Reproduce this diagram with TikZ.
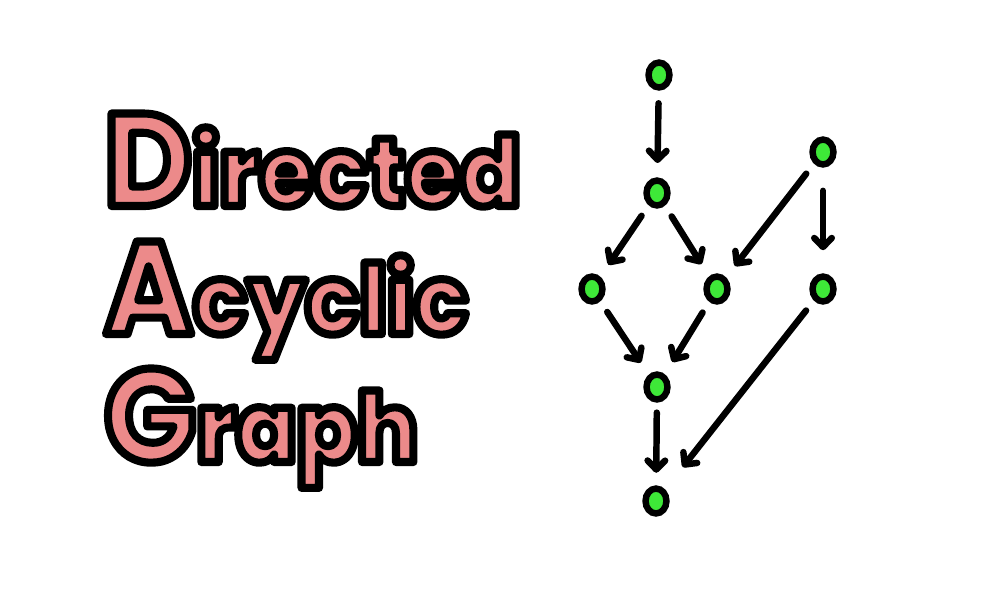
\documentclass[tikz,border=0pt]{standalone}
\usepackage{fontspec}
\usetikzlibrary{arrows.meta,shapes.geometric}
\IfFontExistsTF{Poppins ExtraBold}{%
  \newfontfamily\titlefont{Poppins ExtraBold}[FakeStretch=0.92]}{%
  \newfontfamily\titlefont{Poppins}[FakeStretch=0.92,UprightFont=*Bold]}
\IfFontExistsTF{Poppins Bold}{%
  \newfontfamily\capfont{Poppins Bold}[FakeStretch=0.92]}{%
  \newfontfamily\capfont{Poppins}[FakeStretch=0.92,UprightFont=*Bold]}
\definecolor{dagpink}{RGB}{236,138,138}
\definecolor{daggreen}{RGB}{62,232,56}
\def\px{0.5669pt}
\newcommand\capsz{\capfont\fontsize{75}{75}\selectfont}
\newcommand\lowsz{\titlefont\fontsize{55}{55}\selectfont}
\newcommand\olon{\special{pdf:literal direct 2 Tr 4.6 w 1 j 1 J 0 0 0 RG}}
\newcommand\oloff{\special{pdf:literal direct 0 Tr}}
\tikzset{
  word/.style={anchor=base west, inner sep=0pt, outer sep=0pt, text=dagpink},
  vert/.style={ellipse, draw=black, fill=daggreen, line width=6.5*\px,
    minimum width=21*\px, minimum height=25*\px, inner sep=0pt, outer sep=0pt},
  arr/.style={line width=6.5*\px, line cap=round,
    -{Straight Barb[length=5.1pt, width=10pt, round]},
    shorten <=9pt, shorten >=10pt},
}
\begin{document}
\begin{tikzpicture}[x=0.02cm, y=-0.02cm]
\useasboundingbox (0,0) rectangle (1000,600);
% title
\node[word] (w1) at (104,206) {\olon\capsz D\lowsz irected\oloff};
\node[word] (w2) at (104,334) {\olon\capsz A\lowsz cyclic\oloff};
\node[word] (w3) at (104,462) {\olon\capsz G\lowsz raph\oloff};
% graph
\node[vert] (n1) at (659,75) {};
\node[vert] (n2) at (657,193) {};
\node[vert] (n3) at (823,152) {};
\node[vert] (n4) at (592,289) {};
\node[vert] (n5) at (717,289) {};
\node[vert] (n6) at (823,289) {};
\node[vert] (n7) at (657,387) {};
\node[vert] (n8) at (656,501) {};
\draw[arr] (n1) -- (n2);
\draw[arr] (n2) -- (n4);
\draw[arr] (n2) -- (n5);
\draw[arr] (n3) -- (n5);
\draw[arr, shorten <=15pt, shorten >=15pt] (n3) -- (n6);
\draw[arr] (n4) -- (n7);
\draw[arr] (n5) -- (n7);
\draw[arr, shorten >=18pt] (n6) -- (n8);
\draw[arr, shorten <=7.5pt, shorten >=9pt] (n7) -- (n8);
\end{tikzpicture}
\end{document}
